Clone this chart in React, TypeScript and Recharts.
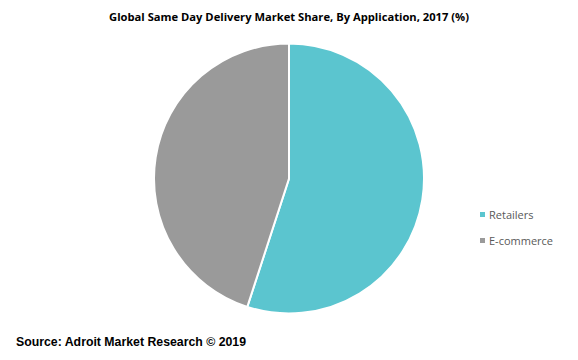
import React from "react";
import { PieChart, Pie, Cell } from "recharts";

const categories = ["Retailers", "E-commerce"];
const shares = [55, 45];
const colors = ["#5BC5CF", "#9A9A9A"];

const data = categories.map((name, i) => ({ name, value: shares[i] }));

export default function App() {
  return (
    <div style={{ position: "absolute", left: 0, top: 0, width: 578, height: 360, background: "#fff", fontFamily: "'Open Sans', 'Liberation Sans', sans-serif" }}>
      <div style={{ position: "absolute", left: 0, top: 9, width: 578, textAlign: "center", fontSize: 11.2, fontWeight: 700, color: "#000", fontFamily: "'Open Sans', sans-serif" }}>
        Global Same Day Delivery Market Share, By Application, 2017 (%)
      </div>
      <PieChart width={578} height={360} margin={{ top: 0, right: 0, bottom: 0, left: 0 }}>
        <Pie
          data={data}
          dataKey="value"
          nameKey="name"
          cx={289}
          cy={178.5}
          outerRadius={135}
          startAngle={90}
          endAngle={-270}
          stroke="#ffffff"
          strokeWidth={2}
          isAnimationActive={false}
          label={false}
          labelLine={false}
        >
          {data.map((d, i) => (
            <Cell key={d.name} fill={colors[i]} />
          ))}
        </Pie>
      </PieChart>
      {data.map((d, i) => (
        <div key={d.name} style={{ position: "absolute", left: 480, top: 207 + i * 26, display: "flex", alignItems: "center", fontSize: 11, color: "#595959" }}>
          <span style={{ display: "inline-block", width: 5, height: 5, background: colors[i], marginRight: 4 }} />
          <span>{d.name}</span>
        </div>
      ))}
      <div style={{ position: "absolute", left: 16, top: 335, fontSize: 12.3, fontWeight: 700, color: "#000", fontFamily: "'Liberation Sans', Arial, sans-serif" }}>
        Source: Adroit Market Research © 2019
      </div>
    </div>
  );
}
